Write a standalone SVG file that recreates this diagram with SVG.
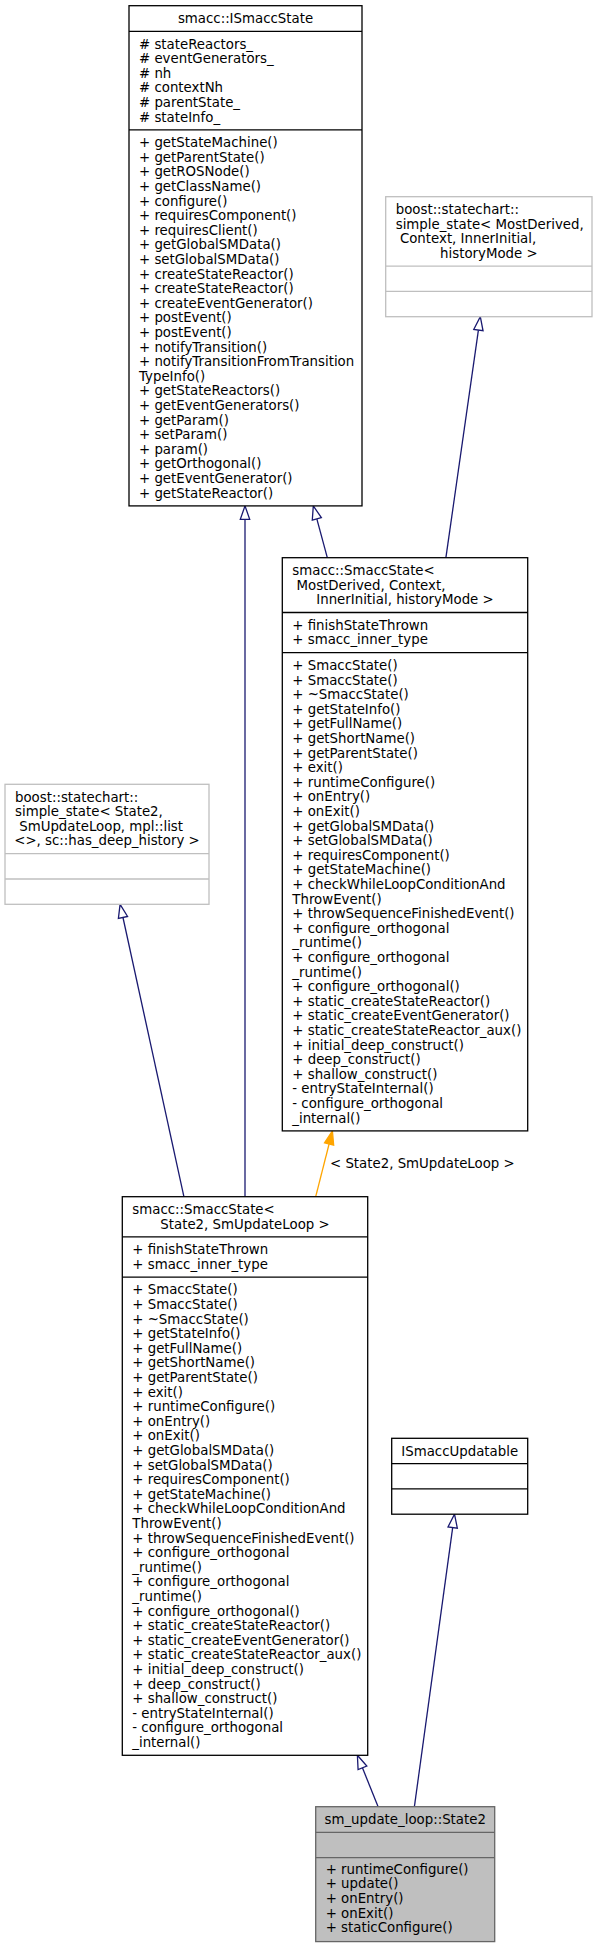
<svg xmlns="http://www.w3.org/2000/svg" width="598" height="1948" viewBox="0 0 598 1948">
<style>
.t{font-family:"DejaVu Sans","Liberation Sans",sans-serif;font-size:13.33px;fill:#000}
.c{text-anchor:middle}
.box{fill:#fff;stroke:#000;stroke-width:1.3}
.ext{fill:#fff;stroke:#bfbfbf;stroke-width:1.3}
.hl{fill:#bfbfbf;stroke:#666;stroke-width:1.3}
.sep{stroke:#000;stroke-width:1.3}
.sepx{stroke:#bfbfbf;stroke-width:1.3}
.seph{stroke:#666;stroke-width:1.3}
.e{stroke:#191970;stroke-width:1.3;fill:none}
.tri{fill:#fff;stroke:#191970;stroke-width:1.3}
.o{stroke:#ffa500;stroke-width:1.3;fill:none}
.otri{fill:#ffa500;stroke:#ffa500;stroke-width:1.3}
</style>
<rect width="598" height="1948" fill="#fff"/>

<g id="connectors">
  <line class="e" x1="316.83" y1="518.93" x2="327.3" y2="557.7"/>
  <polygon class="tri" points="313.3,505.9 321.37,517.7 312.29,520.16"/>
  <line class="e" x1="245" y1="519.4" x2="245" y2="1196.7"/>
  <polygon class="tri" points="245,505.9 240.3,519.4 249.7,519.4"/>
  <line class="e" x1="478.4" y1="330.1" x2="445.9" y2="557.7"/>
  <polygon class="tri" points="480.3,316.7 483.05,330.76 473.75,329.44"/>
  <line class="e" x1="122.98" y1="917.5" x2="183.9" y2="1196.7"/>
  <polygon class="tri" points="120.1,904.3 127.57,916.5 118.39,918.5"/>
  <line class="o" x1="329.09" y1="1143.99" x2="315.7" y2="1196.7"/>
  <polygon class="otri" points="332.4,1130.9 333.65,1145.14 324.53,1142.84"/>
  <text class="t" x="330" y="1167.5">&lt; State2, SmUpdateLoop &gt;</text>
  <line class="e" x1="452.67" y1="1527.57" x2="414.4" y2="1806.7"/>
  <polygon class="tri" points="454.5,1514.2 457.33,1528.21 448.01,1526.93"/>
  <line class="e" x1="362.44" y1="1767.82" x2="378.1" y2="1806.7"/>
  <polygon class="tri" points="357.4,1755.3 366.8,1766.07 358.08,1769.57"/>
</g>

<g id="ISmaccState">
  <rect class="box" x="129" y="5.7" width="233" height="500.2"/>
  <line class="sep" x1="129" y1="31.3" x2="362" y2="31.3"/>
  <line class="sep" x1="129" y1="129.9" x2="362" y2="129.9"/>
  <text class="t c" x="245.5" y="23">smacc::ISmaccState</text>
  <text class="t" x="139" y="48.6">
    <tspan x="139" y="48.6"># stateReactors_</tspan>
    <tspan x="139" dy="14.6"># eventGenerators_</tspan>
    <tspan x="139" dy="14.6"># nh</tspan>
    <tspan x="139" dy="14.6"># contextNh</tspan>
    <tspan x="139" dy="14.6"># parentState_</tspan>
    <tspan x="139" dy="14.6"># stateInfo_</tspan>
  </text>
  <text class="t" x="139" y="147.2">
    <tspan x="139" y="147.2">+ getStateMachine()</tspan>
    <tspan x="139" dy="14.6">+ getParentState()</tspan>
    <tspan x="139" dy="14.6">+ getROSNode()</tspan>
    <tspan x="139" dy="14.6">+ getClassName()</tspan>
    <tspan x="139" dy="14.6">+ configure()</tspan>
    <tspan x="139" dy="14.6">+ requiresComponent()</tspan>
    <tspan x="139" dy="14.6">+ requiresClient()</tspan>
    <tspan x="139" dy="14.6">+ getGlobalSMData()</tspan>
    <tspan x="139" dy="14.6">+ setGlobalSMData()</tspan>
    <tspan x="139" dy="14.6">+ createStateReactor()</tspan>
    <tspan x="139" dy="14.6">+ createStateReactor()</tspan>
    <tspan x="139" dy="14.6">+ createEventGenerator()</tspan>
    <tspan x="139" dy="14.6">+ postEvent()</tspan>
    <tspan x="139" dy="14.6">+ postEvent()</tspan>
    <tspan x="139" dy="14.6">+ notifyTransition()</tspan>
    <tspan x="139" dy="14.6">+ notifyTransitionFromTransition</tspan>
    <tspan x="139" dy="14.6">TypeInfo()</tspan>
    <tspan x="139" dy="14.6">+ getStateReactors()</tspan>
    <tspan x="139" dy="14.6">+ getEventGenerators()</tspan>
    <tspan x="139" dy="14.6">+ getParam()</tspan>
    <tspan x="139" dy="14.6">+ setParam()</tspan>
    <tspan x="139" dy="14.6">+ param()</tspan>
    <tspan x="139" dy="14.6">+ getOrthogonal()</tspan>
    <tspan x="139" dy="14.6">+ getEventGenerator()</tspan>
    <tspan x="139" dy="14.6">+ getStateReactor()</tspan>
  </text>
</g>

<g id="boost_simple_state_generic">
  <rect class="ext" x="385.7" y="196.7" width="206.3" height="120"/>
  <line class="sepx" x1="385.7" y1="266.1" x2="592" y2="266.1"/>
  <line class="sepx" x1="385.7" y1="291.4" x2="592" y2="291.4"/>
  <text class="t" x="395.7" y="214">boost::statechart::</text>
  <text class="t" x="395.7" y="228.6">simple_state&lt; MostDerived,</text>
  <text class="t" x="399.9" y="243.2">Context, InnerInitial,</text>
  <text class="t c" x="488.85" y="257.8">historyMode &gt;</text>
</g>

<g id="boost_simple_state_State2">
  <rect class="ext" x="5" y="784.3" width="204" height="120"/>
  <line class="sepx" x1="5" y1="853.7" x2="209" y2="853.7"/>
  <line class="sepx" x1="5" y1="879" x2="209" y2="879"/>
  <text class="t" x="15" y="801.6">boost::statechart::</text>
  <text class="t" x="15" y="816.2">simple_state&lt; State2,</text>
  <text class="t" x="19.2" y="830.8">SmUpdateLoop, mpl::list</text>
  <text class="t c" x="107" y="845.4">&lt;&gt;, sc::has_deep_history &gt;</text>
</g>

<g id="SmaccState_generic">
  <rect class="box" x="282.3" y="557.7" width="245.4" height="573.2"/>
  <line class="sep" x1="282.3" y1="612.5" x2="527.7" y2="612.5"/>
  <line class="sep" x1="282.3" y1="652.7" x2="527.7" y2="652.7"/>
  <text class="t" x="292.3" y="575">smacc::SmaccState&lt;</text>
  <text class="t" x="296.5" y="589.6">MostDerived, Context,</text>
  <text class="t c" x="405" y="604.2">InnerInitial, historyMode &gt;</text>
  <text class="t" x="292.3" y="629.8">
    <tspan x="292.3" y="629.8">+ finishStateThrown</tspan>
    <tspan x="292.3" dy="14.6">+ smacc_inner_type</tspan>
  </text>
  <text class="t" x="292.3" y="670">
    <tspan x="292.3" y="670">+ SmaccState()</tspan>
    <tspan x="292.3" dy="14.6">+ SmaccState()</tspan>
    <tspan x="292.3" dy="14.6">+ ~SmaccState()</tspan>
    <tspan x="292.3" dy="14.6">+ getStateInfo()</tspan>
    <tspan x="292.3" dy="14.6">+ getFullName()</tspan>
    <tspan x="292.3" dy="14.6">+ getShortName()</tspan>
    <tspan x="292.3" dy="14.6">+ getParentState()</tspan>
    <tspan x="292.3" dy="14.6">+ exit()</tspan>
    <tspan x="292.3" dy="14.6">+ runtimeConfigure()</tspan>
    <tspan x="292.3" dy="14.6">+ onEntry()</tspan>
    <tspan x="292.3" dy="14.6">+ onExit()</tspan>
    <tspan x="292.3" dy="14.6">+ getGlobalSMData()</tspan>
    <tspan x="292.3" dy="14.6">+ setGlobalSMData()</tspan>
    <tspan x="292.3" dy="14.6">+ requiresComponent()</tspan>
    <tspan x="292.3" dy="14.6">+ getStateMachine()</tspan>
    <tspan x="292.3" dy="14.6">+ checkWhileLoopConditionAnd</tspan>
    <tspan x="292.3" dy="14.6">ThrowEvent()</tspan>
    <tspan x="292.3" dy="14.6">+ throwSequenceFinishedEvent()</tspan>
    <tspan x="292.3" dy="14.6">+ configure_orthogonal</tspan>
    <tspan x="292.3" dy="14.6">_runtime()</tspan>
    <tspan x="292.3" dy="14.6">+ configure_orthogonal</tspan>
    <tspan x="292.3" dy="14.6">_runtime()</tspan>
    <tspan x="292.3" dy="14.6">+ configure_orthogonal()</tspan>
    <tspan x="292.3" dy="14.6">+ static_createStateReactor()</tspan>
    <tspan x="292.3" dy="14.6">+ static_createEventGenerator()</tspan>
    <tspan x="292.3" dy="14.6">+ static_createStateReactor_aux()</tspan>
    <tspan x="292.3" dy="14.6">+ initial_deep_construct()</tspan>
    <tspan x="292.3" dy="14.6">+ deep_construct()</tspan>
    <tspan x="292.3" dy="14.6">+ shallow_construct()</tspan>
    <tspan x="292.3" dy="14.6">- entryStateInternal()</tspan>
    <tspan x="292.3" dy="14.6">- configure_orthogonal</tspan>
    <tspan x="292.3" dy="14.6">_internal()</tspan>
  </text>
</g>

<g id="SmaccState_State2">
  <rect class="box" x="122.3" y="1196.7" width="245.4" height="558.6"/>
  <line class="sep" x1="122.3" y1="1236.9" x2="367.7" y2="1236.9"/>
  <line class="sep" x1="122.3" y1="1277.1" x2="367.7" y2="1277.1"/>
  <text class="t" x="132.3" y="1214">smacc::SmaccState&lt;</text>
  <text class="t c" x="245" y="1228.6">State2, SmUpdateLoop &gt;</text>
  <text class="t" x="132.3" y="1254.4">
    <tspan x="132.3" y="1254.4">+ finishStateThrown</tspan>
    <tspan x="132.3" dy="14.6">+ smacc_inner_type</tspan>
  </text>
  <text class="t" x="132.3" y="1294.4">
    <tspan x="132.3" y="1294.4">+ SmaccState()</tspan>
    <tspan x="132.3" dy="14.6">+ SmaccState()</tspan>
    <tspan x="132.3" dy="14.6">+ ~SmaccState()</tspan>
    <tspan x="132.3" dy="14.6">+ getStateInfo()</tspan>
    <tspan x="132.3" dy="14.6">+ getFullName()</tspan>
    <tspan x="132.3" dy="14.6">+ getShortName()</tspan>
    <tspan x="132.3" dy="14.6">+ getParentState()</tspan>
    <tspan x="132.3" dy="14.6">+ exit()</tspan>
    <tspan x="132.3" dy="14.6">+ runtimeConfigure()</tspan>
    <tspan x="132.3" dy="14.6">+ onEntry()</tspan>
    <tspan x="132.3" dy="14.6">+ onExit()</tspan>
    <tspan x="132.3" dy="14.6">+ getGlobalSMData()</tspan>
    <tspan x="132.3" dy="14.6">+ setGlobalSMData()</tspan>
    <tspan x="132.3" dy="14.6">+ requiresComponent()</tspan>
    <tspan x="132.3" dy="14.6">+ getStateMachine()</tspan>
    <tspan x="132.3" dy="14.6">+ checkWhileLoopConditionAnd</tspan>
    <tspan x="132.3" dy="14.6">ThrowEvent()</tspan>
    <tspan x="132.3" dy="14.6">+ throwSequenceFinishedEvent()</tspan>
    <tspan x="132.3" dy="14.6">+ configure_orthogonal</tspan>
    <tspan x="132.3" dy="14.6">_runtime()</tspan>
    <tspan x="132.3" dy="14.6">+ configure_orthogonal</tspan>
    <tspan x="132.3" dy="14.6">_runtime()</tspan>
    <tspan x="132.3" dy="14.6">+ configure_orthogonal()</tspan>
    <tspan x="132.3" dy="14.6">+ static_createStateReactor()</tspan>
    <tspan x="132.3" dy="14.6">+ static_createEventGenerator()</tspan>
    <tspan x="132.3" dy="14.6">+ static_createStateReactor_aux()</tspan>
    <tspan x="132.3" dy="14.6">+ initial_deep_construct()</tspan>
    <tspan x="132.3" dy="14.6">+ deep_construct()</tspan>
    <tspan x="132.3" dy="14.6">+ shallow_construct()</tspan>
    <tspan x="132.3" dy="14.6">- entryStateInternal()</tspan>
    <tspan x="132.3" dy="14.6">- configure_orthogonal</tspan>
    <tspan x="132.3" dy="14.6">_internal()</tspan>
  </text>
</g>

<g id="ISmaccUpdatable">
  <rect class="box" x="391.7" y="1438.3" width="136" height="75.9"/>
  <line class="sep" x1="391.7" y1="1463.6" x2="527.7" y2="1463.6"/>
  <line class="sep" x1="391.7" y1="1488.9" x2="527.7" y2="1488.9"/>
  <text class="t c" x="459.7" y="1455.5">ISmaccUpdatable</text>
</g>

<g id="State2">
  <rect class="hl" x="315.7" y="1806.7" width="179" height="134.9"/>
  <line class="seph" x1="315.7" y1="1832.3" x2="494.7" y2="1832.3"/>
  <line class="seph" x1="315.7" y1="1857.6" x2="494.7" y2="1857.6"/>
  <text class="t c" x="405.2" y="1824">sm_update_loop::State2</text>
  <text class="t" x="325.7" y="1873.5">
    <tspan x="325.7" y="1873.5">+ runtimeConfigure()</tspan>
    <tspan x="325.7" dy="14.7">+ update()</tspan>
    <tspan x="325.7" dy="14.7">+ onEntry()</tspan>
    <tspan x="325.7" dy="14.7">+ onExit()</tspan>
    <tspan x="325.7" dy="14.7">+ staticConfigure()</tspan>
  </text>
</g>
</svg>
